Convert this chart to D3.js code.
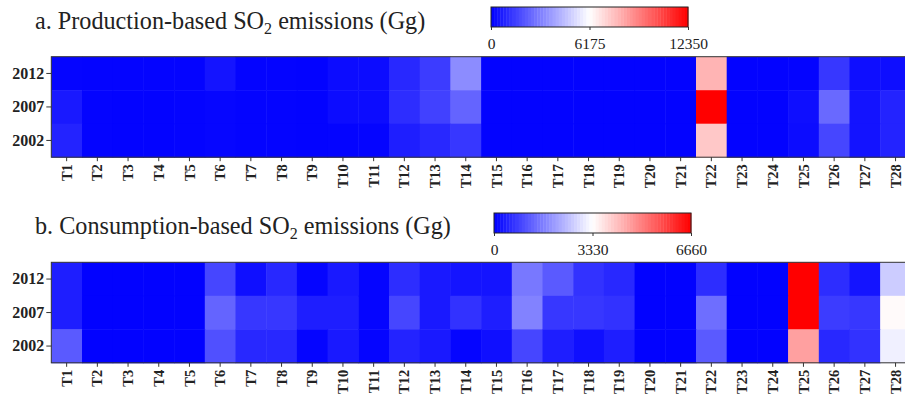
<!DOCTYPE html>
<html>
<head>
<meta charset="utf-8">
<script src="https://cdn.jsdelivr.net/npm/d3@7"></script>
<style>
  html, body { margin: 0; padding: 0; background: #fff; overflow: hidden; }
  svg { display: block; }
  text { font-family: "Liberation Serif", "Times New Roman", serif; fill: #222; }
</style>
</head>
<body>
<svg id="chart" width="905" height="400"></svg>
<script>
const regions = d3.range(1, 29).map(i => "T" + i);
const years = ["2012", "2007", "2002"];

// Production-based SO2 emissions (Gg), per region T1..T28
const prod2012 = [120, 100, 90, 90, 100, 480, 100, 100, 80, 290, 300, 970, 1450, 3390, 80, 70, 70, 70, 70, 70, 70, 8000, 80, 80, 100, 1330, 350, 350];
const prod2007 = [600, 90, 80, 80, 90, 150, 100, 100, 80, 290, 300, 1090, 1570, 2420, 70, 70, 70, 70, 70, 70, 70, 12350, 80, 80, 350, 2540, 450, 850];
const prod2002 = [850, 90, 80, 80, 90, 150, 100, 100, 80, 100, 120, 730, 970, 1330, 70, 70, 70, 70, 70, 70, 70, 7500, 80, 80, 300, 1700, 450, 850];
const prodTicks = [0, 6175, 12350];

// Consumption-based SO2 emissions (Gg), per region T1..T28
const cons2012 = [390, 30, 30, 30, 30, 910, 200, 520, 70, 330, 70, 590, 330, 260, 260, 1570, 1180, 650, 520, 30, 30, 590, 20, 20, 6660, 590, 260, 2670];
const cons2007 = [390, 30, 30, 30, 30, 1310, 720, 720, 390, 390, 70, 910, 330, 650, 390, 1700, 720, 720, 650, 30, 30, 1440, 20, 20, 6660, 780, 720, 3400];
const cons2002 = [1180, 30, 30, 30, 30, 1040, 520, 520, 70, 330, 70, 460, 330, 70, 200, 910, 390, 200, 390, 30, 30, 1180, 20, 20, 4570, 520, 650, 3130];
const consTicks = [0, 3330, 6660];

const panels = [
  { label: "a. Production-based SO", tail: " emissions (Gg)", rows: [prod2012, prod2007, prod2002], ticks: prodTicks,
    top: 56.7, titleY: 29, cbX: 491, cbY: 7 },
  { label: "b. Consumption-based SO", tail: " emissions (Gg)", rows: [cons2012, cons2007, cons2002], ticks: consTicks,
    top: 262.3, titleY: 234, cbX: 494, cbY: 213 }
];

const svg = d3.select("#chart");
const left = 51.3, cellW = 30.7, heatH = 100.5, cbW = 197, cbH = 20;

panels.forEach(p => {
  const g = svg.append("g");
  const maxV = p.ticks[2];
  const color = d3.scaleLinear().domain(p.ticks).range(["#0000ff", "#ffffff", "#ff0000"]).clamp(true);

  const x = d3.scaleBand().domain(regions).range([left, left + cellW * regions.length]).padding(0);
  const y = d3.scaleBand().domain(years).range([p.top, p.top + heatH]).padding(0);

  const cells = [];
  years.forEach((yr, ri) => regions.forEach((r, ci) => cells.push({ yr, r, v: p.rows[ri][ci] })));

  g.selectAll("rect.cell").data(cells).join("rect")
    .attr("class", "cell")
    .attr("x", d => x(d.r)).attr("y", d => y(d.yr))
    .attr("width", x.bandwidth() + 0.5).attr("height", y.bandwidth() + 0.5)
    .attr("fill", d => color(d.v));

  g.append("rect").attr("x", left).attr("y", p.top)
    .attr("width", cellW * regions.length).attr("height", heatH)
    .attr("fill", "none").attr("stroke", "#333").attr("stroke-width", 1);

  const ya = g.append("g").attr("transform", `translate(${left},0)`)
    .call(d3.axisLeft(y).tickSize(5).tickPadding(2));
  ya.select(".domain").remove();
  ya.selectAll("line").attr("stroke", "#333");
  ya.selectAll("text").attr("font-size", 16).attr("font-weight", "bold")
    .style("font-family", "'Liberation Serif', serif").attr("fill", "#222");

  const xa = g.append("g").attr("transform", `translate(0,${p.top + heatH})`)
    .call(d3.axisBottom(x).tickSize(4).tickPadding(3));
  xa.select(".domain").remove();
  xa.selectAll("line").attr("stroke", "#333");
  xa.selectAll("text").attr("font-size", 14.5).attr("font-weight", "bold")
    .style("font-family", "'Liberation Serif', serif").attr("fill", "#222")
    .attr("transform", "rotate(-90)").attr("text-anchor", "end")
    .attr("x", -7).attr("y", 0).attr("dy", "0.35em");

  // Title with subscript
  const t = g.append("text").attr("x", 35).attr("y", p.titleY).attr("font-size", 24.2);
  t.append("tspan").text(p.label);
  t.append("tspan").attr("font-size", 16).attr("dy", 5).text("2");
  t.append("tspan").attr("dy", -5).text(p.tail);

  // Colorbar
  const steps = 64;
  const cbx = d3.scaleLinear().domain([0, maxV]).range([p.cbX, p.cbX + cbW]);
  const stepVals = d3.range(steps).map(i => i * maxV / steps);
  g.selectAll("rect.cb").data(stepVals).join("rect")
    .attr("class", "cb")
    .attr("x", d => cbx(d)).attr("y", p.cbY)
    .attr("width", cbW / steps + 0.4).attr("height", cbH)
    .attr("fill", d => color(d + maxV / steps / 2));
  g.append("rect").attr("x", p.cbX).attr("y", p.cbY).attr("width", cbW).attr("height", cbH)
    .attr("fill", "none").attr("stroke", "#222").attr("stroke-width", 1);

  const ca = g.append("g").attr("transform", `translate(0,${p.cbY + cbH})`)
    .call(d3.axisBottom(cbx).tickValues(p.ticks).tickFormat(d3.format("d")).tickSize(3).tickPadding(8));
  ca.select(".domain").remove();
  ca.selectAll("line").attr("stroke", "#333");
  ca.selectAll("text").attr("font-size", 15.5)
    .style("font-family", "'Liberation Serif', serif").attr("fill", "#222");
});
</script>
</body>
</html>
